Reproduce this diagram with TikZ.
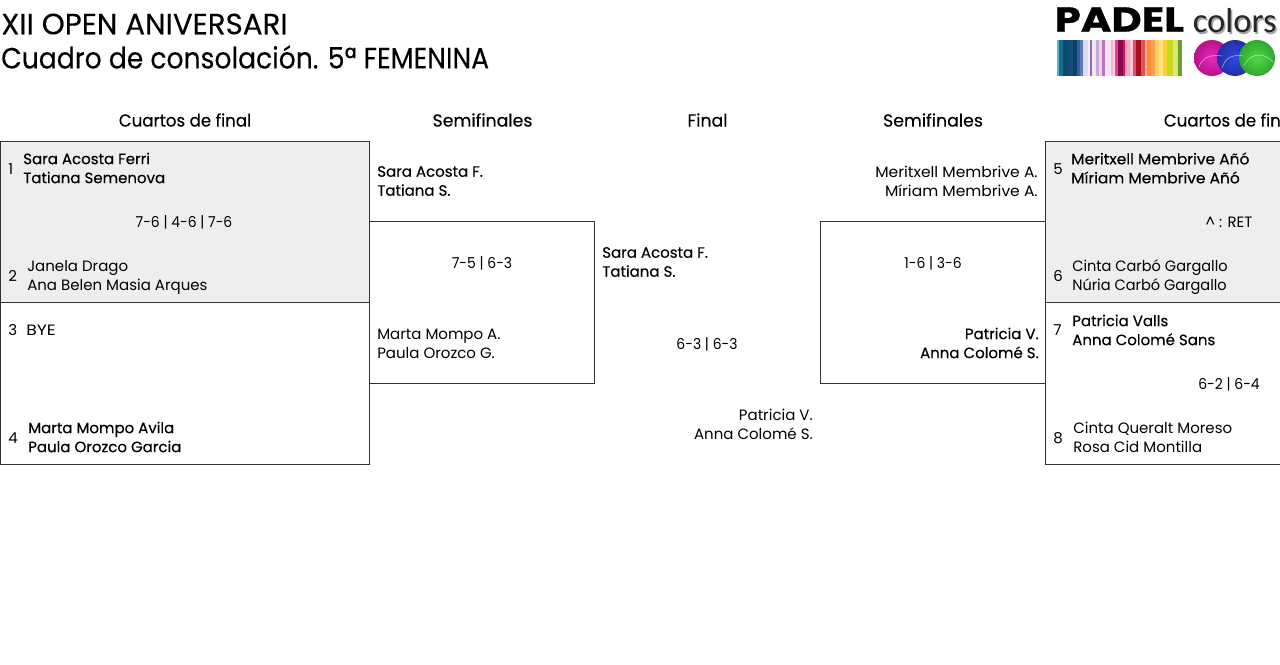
\documentclass[tikz,border=0pt]{standalone}
\usepackage{fontspec}
\setmainfont{Poppins}
\newfontfamily\medfont[FakeBold=0.3]{Poppins}
\newfontfamily\headfont[FakeBold=0.15]{Poppins}
\newfontfamily\logofont{Carlito}
\usepackage{xcolor}
\definecolor{boxgrey}{HTML}{EEEEEE}
\definecolor{boxline}{HTML}{333333}
\definecolor{ballpink}{HTML}{E52DB8}
\definecolor{ballpinkd}{HTML}{B8108C}
\definecolor{ballblue}{HTML}{3348E0}
\definecolor{ballblued}{HTML}{2030A8}
\definecolor{ballgreen}{HTML}{4FD84A}
\definecolor{ballgreend}{HTML}{2FA82E}

\tikzset{
 boxq/.style={draw=boxline, line width=0.6pt, outer sep=0pt, minimum width=276.75pt, minimum height=121.5pt, inner sep=0pt, anchor=north west},
 boxs/.style={draw=boxline, line width=0.6pt, outer sep=0pt, minimum width=168.75pt, minimum height=121.5pt, inner sep=0pt, anchor=north west},
 player/.style={inner sep=0pt, anchor=west, align=left, font=\fontsize{11.25}{14.25}\selectfont},
 playerb/.style={player, font=\medfont\fontsize{11.25}{14.25}\selectfont},
 playerr/.style={player, anchor=east, align=right},
 playerbr/.style={playerb, anchor=east, align=right},
 result/.style={inner sep=0pt, xscale=0.93, font=\fontsize{11.25}{14.25}\selectfont},
 seed/.style={inner sep=0pt, anchor=west, font=\fontsize{11.25}{14.25}\selectfont},
 round/.style={inner sep=0pt, font=\medfont\fontsize{13}{16}\selectfont},
 headline/.style={inner sep=0pt, anchor=west, font=\headfont\fontsize{22}{25}\selectfont},
}

\begin{document}
\begin{tikzpicture}[x=0.75pt,y=-0.75pt]

\useasboundingbox (0,0) rectangle (1280,664);
\clip (0,0) rectangle (1280,664);

% title
\node[headline] (title1) at (1,24) {XII OPEN ANIVERSARI};
\node[headline, xscale=0.907] (title2) at (1,57) {Cuadro de consolación. 5ª FEMENINA};

% rounds
\node[round, xscale=0.96] (r1) at (185,120) {Cuartos de final};
\node[round] (r2) at (482.5,120) {Semifinales};
\node[round] (r3) at (707.5,120) {Final};
\node[round] (r4) at (933,120) {Semifinales};
\node[round, xscale=0.96] (r5) at (1230,120) {Cuartos de final};

% boxes
\node[boxq, fill=boxgrey, minimum height=120.75pt] (qa) at (0.5,141.5) {};
\node[boxq] (qb) at (0.5,302.5) {};
\node[boxs] (sa) at (369.5,221.5) {};
\node[boxs] (sb) at (820.5,221.5) {};
\node[boxq, fill=boxgrey, minimum height=120.75pt] (qc) at (1045.5,141.5) {};
\node[boxq] (qd) at (1045.5,302.5) {};

% left quarters
\node[seed] (n1) at (8,169) {1};
\node[playerb] (p1) at (23,168) {Sara Acosta Ferri\\Tatiana Semenova};
\node[result] (s1) at (184,222) {7-6 | 4-6 | 7-6};
\node[seed] (n2) at (8,276) {2};
\node[player] (p2) at (27,277) {Janela Drago\\Ana Belen Masia Arques};
\node[seed] (n3) at (8,330) {3};
\node[player, xscale=1.15] (p3) at (26,330) {BYE};
\node[seed] (n4) at (8,438) {4};
\node[playerb] (p4) at (28,437) {Marta Mompo Avila\\Paula Orozco Garcia};

% left semi
\node[playerb] (p5) at (377,181) {Sara Acosta F.\\Tatiana S.};
\node[result] (s2) at (482,263) {7-5 | 6-3};
\node[player] (p6) at (377,344) {Marta Mompo A.\\Paula Orozco G.};

% final
\node[playerb] (p7) at (602,262) {Sara Acosta F.\\Tatiana S.};
\node[result] (s3) at (707,344) {6-3 | 6-3};
\node[playerr] (p8) at (813,424) {Patricia V.\\Anna Colomé S.};

% right semi
\node[playerr, xscale=1.035] (p9) at (1038,181) {Meritxell Membrive A.\\Míriam Membrive A.};
\node[result] (s4) at (933,263) {1-6 | 3-6};
\node[playerbr] (p10) at (1039,343) {Patricia V.\\Anna Colomé S.};

% right quarters
\node[seed] (n5) at (1053,169) {5};
\node[playerb, xscale=1.03] (p11) at (1071,168) {Meritxell Membrive Añó\\Míriam Membrive Añó};
\node[result, xscale=1.07] (s5) at (1229,222) {\textasciicircum{} : RET};
\node[seed] (n6) at (1053,276) {6};
\node[player, xscale=0.97] (p12) at (1072,277) {Cinta Carbó Gargallo\\Núria Carbó Gargallo};
\node[seed] (n7) at (1053,330) {7};
\node[playerb] (p13) at (1072,330) {Patricia Valls\\Anna Colomé Sans};
\node[result] (s6) at (1229,384) {6-2 | 6-4};
\node[seed] (n8) at (1053,438) {8};
\node[player] (p14) at (1073,437) {Cinta Queralt Moreso\\Rosa Cid Montilla};

% logo
\node[inner sep=0pt, anchor=west, xscale=1.2, font=\bfseries\addfontfeature{FakeBold=0.8}\fontsize{26}{26}\selectfont] (padel) at (1054.5,19.5) {PADEL};
\node[inner sep=0pt, anchor=west, text=gray!70, font=\logofont\fontsize{26}{26}\selectfont] (colorsb) at (1194,22.5) {colors};
\node[inner sep=0pt, anchor=west, text=black!85, font=\logofont\fontsize{26}{26}\selectfont] (colors) at (1192.5,21) {colors};

\foreach \xa/\xb/\hex in {1057/1059/4FB6D8,1059/1063/1A6A8C,1063/1068/0D4A6B,1068/1073/124E78,1073/1077/0B3F66,1077/1080/2F5FA0,1080/1083/5C7AB5,1083/1088/DDDDEE,1088/1090/EEEEF4,1090/1092/8F6FB5,1092/1096/F0E6F2,1096/1099/C9A9D6,1099/1102/E9D5EC,1102/1105/C070BE,1105/1111/F8E4F2,1111/1113/F6B5D5,1113/1115/FBD5E5,1115/1118/E8409A,1118/1123/8A0A50,1123/1125/D4145A,1125/1130/F6A8C0,1130/1133/FCC8D4,1133/1136/E05070,1136/1141/A81020,1141/1145/E55050,1145/1147/FFB0A0,1147/1151/FF8C30,1151/1155/FFA050,1155/1159/FFD060,1159/1163/FFE680,1163/1167/FFD030,1167/1173/C8D820,1173/1178/D8E870,1178/1182/6AA030}
{
\definecolor{stripecol}{HTML}{\hex}
\fill[stripecol] (\xa,40) rectangle (\xb,76);
}

\shade[inner color=ballpink, outer color=ballpinkd] (1212,58) circle [radius=18];
\shade[inner color=ballblue, outer color=ballblued] (1235,58) circle [radius=18];
\shade[inner color=ballgreen, outer color=ballgreend] (1257,58) circle [radius=18];
\draw[white, opacity=0.6] (1199,67) .. controls (1202,58) and (1210,54) .. (1222,56);
\draw[white, opacity=0.6] (1222,68) .. controls (1225,58) and (1232,54) .. (1244,56);
\draw[white, opacity=0.6] (1244,66) .. controls (1248,55) and (1262,50) .. (1273,62);

\end{tikzpicture}
\end{document}
